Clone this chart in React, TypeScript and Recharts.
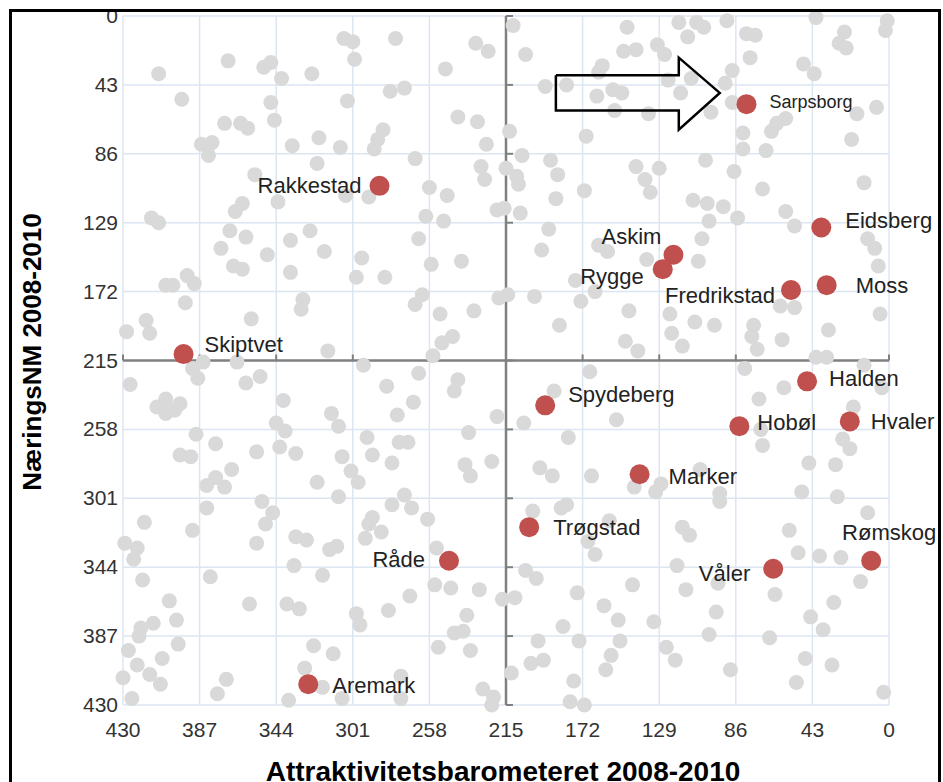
import React from "react";
import { ScatterChart, Scatter, XAxis, YAxis, CartesianGrid } from "recharts";

const TICKS = [0, 43, 86, 129, 172, 215, 258, 301, 344, 387, 430];
const MID = 215;

// grey municipalities: [Attraktivitetsbarometeret rank, NæringsNM rank]
const greyNW: [number, number][] = [
  [306, 14], [301, 16], [300, 27], [371, 28], [351, 32], [347, 29], [341, 39], [324, 36], [410, 36], [397, 52],
  [347, 54], [304, 53], [345, 65], [373, 67], [364, 67], [360, 70], [320, 76], [335, 81], [308, 82], [386, 80],
  [380, 79], [382, 87], [321, 92], [356, 99], [343, 116], [363, 117], [367, 122], [414, 126], [410, 129], [370, 134],
  [361, 138], [336, 140], [325, 134], [305, 112], [292, 113],
  [277, 14], [232, 17], [225, 22], [249, 33], [280, 47], [272, 45], [242, 63], [231, 66], [226, 80], [284, 71],
  [287, 77], [289, 83], [266, 89], [229, 94], [227, 102], [258, 107], [248, 112], [220, 121], [216, 120], [260, 125],
  [250, 128], [264, 139], [215, 95],
  [375, 145], [349, 149], [317, 147], [296, 151], [368, 156], [363, 158], [336, 160], [299, 163], [394, 162], [390, 167],
  [406, 168], [402, 168], [395, 179], [329, 177], [330, 183], [358, 189], [417, 190], [428, 197], [415, 198], [315, 209],
  [257, 155], [240, 153], [283, 163], [262, 174], [266, 180], [252, 186], [233, 184], [219, 176], [245, 200], [251, 204],
  [256, 212],
];

const greyNE: [number, number][] = [
  [211, 6], [204, 24], [193, 44], [181, 43], [164, 50], [155, 46], [150, 48], [154, 59], [147, 7], [149, 22],
  [142, 21], [161, 31], [163, 35], [213, 72], [170, 75], [206, 87], [190, 90], [186, 99], [209, 100], [208, 105],
  [171, 109], [187, 114], [207, 123], [191, 133],
  [118, 4], [108, 4], [104, 7], [91, 3], [113, 13], [80, 11], [75, 12], [41, 1], [25, 10], [28, 17],
  [24, 20], [1, 3], [2, 9], [130, 18], [126, 24], [78, 26], [48, 30], [42, 36], [88, 34], [92, 42],
  [124, 40], [111, 39], [117, 48], [135, 61], [100, 60], [88, 54], [18, 61], [7, 57], [58, 64], [63, 67],
  [66, 72], [82, 73], [82, 83], [69, 84], [21, 77], [103, 90], [142, 94], [137, 102], [134, 110], [129, 95],
  [87, 97], [71, 108], [14, 104], [110, 115], [102, 117], [93, 119], [85, 126], [58, 122], [53, 131], [101, 128],
  [105, 139],
  [195, 146], [214, 174], [199, 175], [176, 165], [173, 178], [165, 172], [185, 193], [146, 184], [148, 203], [141, 209],
  [163, 143], [158, 147],
  [107, 153], [136, 152], [12, 139], [8, 145], [6, 156], [123, 186], [109, 191], [98, 193], [122, 198], [116, 206],
  [76, 193], [77, 200], [74, 208], [60, 202], [61, 181], [53, 182], [34, 196], [5, 186], [41, 213], [35, 213],
];

const greySW: [number, number][] = [
  [385, 216], [366, 216], [391, 220], [388, 226], [426, 230], [361, 229], [353, 225], [295, 218], [340, 240], [406, 239],
  [411, 244], [406, 248], [398, 242], [401, 246], [313, 248], [309, 256], [344, 254], [339, 259], [389, 261], [378, 267],
  [398, 274], [392, 275], [355, 272], [342, 269], [333, 273], [307, 275], [293, 263], [290, 274], [369, 283], [378, 288],
  [302, 284],
  [264, 223], [242, 227], [244, 234], [282, 231], [267, 241], [276, 249], [220, 250], [236, 260], [275, 266], [270, 266],
  [279, 279], [238, 280], [223, 278], [235, 287],
  [383, 293], [373, 294], [321, 291], [298, 291], [309, 300], [383, 307], [352, 303], [346, 310], [350, 317], [355, 329],
  [418, 316], [391, 321], [429, 329], [422, 332], [424, 339], [333, 325], [327, 327], [314, 333], [310, 331], [290, 313],
  [292, 317], [294, 326], [334, 343], [318, 349], [381, 350], [419, 352], [359, 367], [338, 367], [331, 370], [404, 365],
  [400, 377], [413, 379], [420, 382], [421, 387], [299, 373], [297, 380], [427, 396], [399, 392], [408, 401], [422, 405],
  [415, 411], [430, 413], [409, 417], [425, 426], [372, 414], [377, 423], [323, 393], [312, 398], [328, 407], [318, 419],
  [307, 426], [337, 427],
  [279, 305], [272, 299], [268, 307], [285, 322], [259, 314], [254, 332], [255, 355], [246, 357], [230, 358], [269, 362],
  [217, 364], [281, 371], [237, 374], [244, 385], [239, 384], [253, 394], [235, 396], [274, 412], [274, 426], [228, 420],
  [222, 425], [223, 430],
];

const greySE: [number, number][] = [
  [168, 222], [205, 254], [188, 234], [153, 252], [180, 263], [196, 282], [189, 287], [167, 287],
  [14, 218], [4, 232], [81, 220], [59, 232], [73, 239], [72, 258], [71, 268], [20, 244], [26, 264], [22, 270],
  [45, 279], [30, 280], [106, 283],
  [210, 363], [204, 346], [198, 351], [212, 410], [200, 309], [184, 307], [181, 305], [169, 328], [165, 336], [157, 315],
  [175, 360], [160, 368], [152, 377], [151, 390], [156, 399], [159, 408], [183, 381], [174, 390], [197, 390], [201, 404],
  [194, 402], [177, 415], [179, 428], [171, 430], [144, 355],
  [143, 294], [131, 297], [128, 292], [95, 298], [95, 303], [49, 297], [29, 300], [12, 310], [116, 319], [112, 324],
  [56, 321], [51, 335], [39, 337], [27, 338], [119, 343], [114, 358], [96, 354], [64, 361], [16, 353], [31, 366],
  [97, 372], [132, 378], [44, 375], [37, 383], [101, 386], [67, 388], [125, 394], [120, 402], [47, 401], [32, 405],
  [89, 408], [52, 416], [3, 422],
];

// Østfold municipalities
const highlightNames = [
  "Sarpsborg", "Rakkestad", "Eidsberg", "Askim", "Rygge", "Fredrikstad", "Moss", "Skiptvet", "Halden",
  "Spydeberg", "Hobøl", "Hvaler", "Marker", "Trøgstad", "Råde", "Rømskog", "Våler", "Aremark",
];
const highlightX = [80, 286, 38, 121, 127, 55, 35, 396, 46, 193, 84, 22, 140, 202, 247, 10, 65, 326];
const highlightY = [55, 106, 132, 149, 158, 171, 168, 211, 228, 243, 256, 253, 286, 319, 340, 340, 345, 417];

// arrow outline pointing at Sarpsborg
const arrowX = [187, 118, 118, 95, 118, 118, 187, 187];
const arrowY = [37, 37, 26, 48, 71, 59, 59, 37];

// label anchor, dx, dy relative to the dot
const LABEL_POS: Record<string, ["start" | "end" | "middle", number, number]> = {
  Sarpsborg: ["start", 23, -2],
  Rakkestad: ["end", -18, 0],
  Eidsberg: ["start", 24, -7],
  Askim: ["end", -12, -18],
  Rygge: ["end", -19, 7],
  Fredrikstad: ["end", -16, 6],
  Moss: ["start", 29, 0],
  Skiptvet: ["start", 21, -10],
  Halden: ["start", 22, -3],
  Spydeberg: ["start", 23, -11],
  "Hobøl": ["start", 18, -4],
  Hvaler: ["start", 21, 0],
  Marker: ["start", 29, 2],
  "Trøgstad": ["start", 24, 0],
  "Råde": ["end", -24, -1],
  "Rømskog": ["middle", 18, -28],
  "Våler": ["end", -23, 5],
  Aremark: ["start", 24, 1],
};

const FONT = "'Liberation Sans', Arial, sans-serif";

const toPts = (arr: [number, number][]) => arr.map(([x, y]) => ({ x, y }));
const grey = [...toPts(greyNW), ...toPts(greyNE), ...toPts(greySW), ...toPts(greySE)];
const highlights = highlightNames.map((name, i) => ({ name, x: highlightX[i], y: highlightY[i] }));
const arrow = arrowX.map((x, i) => ({ x, y: arrowY[i] }));
const vLine = [{ x: MID, y: 0 }, { x: MID, y: 430 }];
const hLine = [{ x: 430, y: MID }, { x: 0, y: MID }];
const vTicks = TICKS.map((t) => ({ x: MID, y: t }));
const hTicks = TICKS.map((t) => ({ x: t, y: MID }));

const Empty = () => <g />;
const GreyDot = (p: any) => <circle cx={p.cx} cy={p.cy} r={7.5} fill="#d9d9d9" />;
const VTick = (p: any) => <line x1={p.cx} y1={p.cy} x2={p.cx + 7} y2={p.cy} stroke="#808080" strokeWidth={2} />;
const HTick = (p: any) => <line x1={p.cx} y1={p.cy} x2={p.cx} y2={p.cy - 6} stroke="#808080" strokeWidth={2} />;

const RedDot = (p: any) => {
  const name = p.payload.name;
  const [anchor, dx, dy] = LABEL_POS[name] || ["start", 20, 0];
  return (
    <g>
      <circle cx={p.cx} cy={p.cy} r={10} fill="#c0504d" />
      <text
        x={p.cx + dx}
        y={p.cy + dy}
        textAnchor={anchor}
        dominantBaseline="central"
        fontFamily={FONT}
        fontSize={name === "Sarpsborg" ? 18 : 22}
        fill="#222"
      >
        {name}
      </text>
    </g>
  );
};

const XTick = ({ x, y, payload }: any) => (
  <text x={x} y={y + 30} textAnchor="middle" fontFamily={FONT} fontSize={21} fill="#333">
    {payload.value}
  </text>
);

const YTick = ({ x, y, payload }: any) => (
  <text x={x - 3} y={y + 7} textAnchor="end" fontFamily={FONT} fontSize={21} fill="#333">
    {payload.value}
  </text>
);

export default function App() {
  return (
    <div style={{ position: "absolute", left: 0, top: 0, width: 943, height: 782, overflow: "hidden", background: "#fff" }}>
      <div
        style={{
          position: "absolute",
          left: 9,
          top: 9,
          width: 932,
          height: 800,
          boxSizing: "border-box",
          border: "3px solid #000",
          overflow: "hidden",
        }}
      >
        <div style={{ position: "absolute", left: -12, top: -12, width: 943, height: 782 }}>
          <ScatterChart width={943} height={782} margin={{ top: 16, right: 54, bottom: 47, left: 0 }}>
            <CartesianGrid stroke="#dce6f2" strokeWidth={1.5} />
            <XAxis
              type="number"
              dataKey="x"
              domain={[0, 430]}
              ticks={TICKS}
              interval={0}
              reversed
              axisLine={false}
              tickLine={false}
              tickSize={0}
              height={30}
              tick={<XTick />}
            />
            <YAxis
              type="number"
              dataKey="y"
              domain={[0, 430]}
              ticks={TICKS}
              interval={0}
              reversed
              axisLine={false}
              tickLine={false}
              tickSize={0}
              width={123}
              tick={<YTick />}
            />
            <Scatter data={vLine} line={{ stroke: "#808080", strokeWidth: 2.5 }} shape={<Empty />} isAnimationActive={false} />
            <Scatter data={hLine} line={{ stroke: "#808080", strokeWidth: 2.5 }} shape={<Empty />} isAnimationActive={false} />
            <Scatter data={vTicks} shape={<VTick />} isAnimationActive={false} />
            <Scatter data={hTicks} shape={<HTick />} isAnimationActive={false} />
            <Scatter data={grey} shape={<GreyDot />} isAnimationActive={false} />
            <Scatter data={arrow} line={{ stroke: "#000", strokeWidth: 2.5 }} shape={<Empty />} isAnimationActive={false} />
            <Scatter data={highlights} shape={<RedDot />} isAnimationActive={false} />
          </ScatterChart>
          <div
            style={{
              position: "absolute",
              left: 32,
              top: 352,
              transform: "translate(-50%, -50%) rotate(-90deg)",
              fontFamily: FONT,
              fontWeight: "bold",
              fontSize: 26,
              whiteSpace: "nowrap",
              color: "#000",
            }}
          >
            NæringsNM 2008-2010
          </div>
          <div
            style={{
              position: "absolute",
              left: 503,
              top: 772,
              transform: "translate(-50%, -50%)",
              fontFamily: FONT,
              fontWeight: "bold",
              fontSize: 28,
              whiteSpace: "nowrap",
              color: "#000",
            }}
          >
            Attraktivitetsbarometeret 2008-2010
          </div>
        </div>
      </div>
    </div>
  );
}
